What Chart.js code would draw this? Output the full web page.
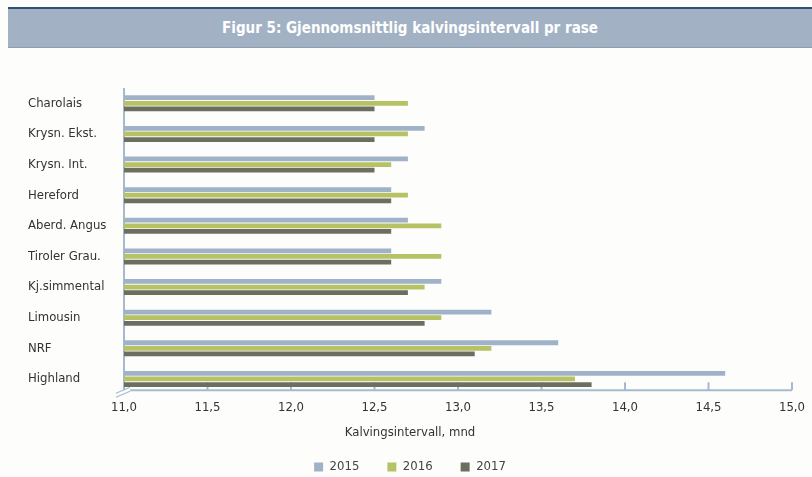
<!DOCTYPE html>
<html>
<head>
<meta charset="utf-8">
<script src="https://cdn.jsdelivr.net/npm/chart.js@4/dist/chart.umd.min.js"></script>
<style>
    body { margin: 0; background: #fdfdfc; }
    #banner {
        position: absolute; left: 8px; top: 7px; width: 804px; height: 38px;
        background: #a2b2c4; border-top: 2px solid #2f5272; border-bottom: 1px solid #8d9eb1;
        color: white; font: bold 15px "DejaVu Sans Condensed", sans-serif;
        text-align: center; line-height: 39px;
    }
    #wrap { position: absolute; left: 0; top: 0; width: 812px; height: 477px; }
</style>
</head>
<body>
<div id="wrap"><canvas id="FirstBarChart"></canvas></div>
<div id="banner">Figur 5: Gjennomsnittlig kalvingsintervall pr rase</div>
<script>
const breeds = ["Charolais", "Krysn. Ekst.", "Krysn. Int.", "Hereford", "Aberd. Angus",
    "Tiroler Grau.", "Kj.simmental", "Limousin", "NRF", "Highland"];
const years = ["2015", "2016", "2017"];
const values2015 = [12.5, 12.8, 12.7, 12.6, 12.7, 12.6, 12.9, 13.2, 13.6, 14.6];
const values2016 = [12.7, 12.7, 12.6, 12.7, 12.9, 12.9, 12.8, 12.9, 13.2, 13.7];
const values2017 = [12.5, 12.5, 12.5, 12.6, 12.6, 12.6, 12.7, 12.8, 13.1, 13.8];

const font = "'DejaVu Sans Condensed', sans-serif";

// axis line with upward ticks and the little break mark, drawn from the x scale
const axisLines = {
    id: 'axisLines',
    beforeDatasetsDraw(chart) {
        const {ctx, chartArea, scales: {x}} = chart;
        const yAxis = chartArea.bottom - 4;
        ctx.save();
        ctx.strokeStyle = '#a7bacd';
        ctx.lineWidth = 2;
        ctx.beginPath();
        ctx.moveTo(x.left, chartArea.top);
        ctx.lineTo(x.left, yAxis);
        ctx.lineTo(x.right, yAxis);
        x.ticks.forEach((t, i) => {
            const px = x.getPixelForTick(i);
            ctx.moveTo(px, yAxis);
            ctx.lineTo(px, yAxis - 8);
        });
        ctx.stroke();
        ctx.strokeStyle = '#fdfdfc';
        ctx.lineWidth = 3;
        ctx.beginPath();
        ctx.moveTo(x.left - 6, yAxis + 4);
        ctx.lineTo(x.left + 6, yAxis - 1);
        ctx.stroke();
        ctx.strokeStyle = '#a7bacd';
        ctx.lineWidth = 1.2;
        ctx.beginPath();
        ctx.moveTo(x.left - 8, yAxis + 3);
        ctx.lineTo(x.left + 6, yAxis - 3);
        ctx.moveTo(x.left - 8, yAxis + 7);
        ctx.lineTo(x.left + 6, yAxis + 1);
        ctx.stroke();
        ctx.restore();
    }
};

let ctx = document.getElementById('FirstBarChart').getContext('2d');

var data = {
    labels: breeds,
    datasets: [
        { label: years[0], data: values2015, backgroundColor: "#9fb2c7" },
        { label: years[1], data: values2016, backgroundColor: "#b6c264" },
        { label: years[2], data: values2017, backgroundColor: "#6c6f5f" }
    ]
};

var myBarChart = new Chart(ctx, {
    type: 'bar',
    data: data,
    plugins: [axisLines],
    options: {
        indexAxis: 'y',
        responsive: true,
        maintainAspectRatio: false,
        animation: false,
        barPercentage: 0.85,
        categoryPercentage: 0.55,
        layout: { padding: { left: 28, right: 20, top: 88, bottom: -6.5 } },
        scales: {
            x: {
                min: 11, max: 15,
                grid: { display: false, drawTicks: false },
                border: { display: false },
                ticks: {
                    stepSize: 0.5, padding: 6, color: '#333',
                    font: { family: font, size: 13 },
                    callback: v => v.toFixed(1).replace('.', ',')
                }
            },
            y: {
                grid: { display: false, drawTicks: false },
                border: { display: false },
                afterFit: scale => { scale.width = 96; },
                ticks: {
                    crossAlign: 'far', color: '#333', padding: 0,
                    font: { family: font, size: 13 }
                }
            }
        },
        plugins: {
            title: {
                display: true, position: 'bottom', weight: 500,
                text: "Kalvingsintervall, mnd", color: '#333',
                font: { family: font, size: 13, weight: 'normal' },
                padding: { top: 3.3, bottom: -8.3 }
            },
            legend: {
                position: 'bottom',
                labels: {
                    boxWidth: 9, boxHeight: 9, padding: 28, color: '#444',
                    font: { family: font, size: 13 }
                }
            },
            tooltip: { enabled: false }
        }
    }
});
</script>
</body>
</html>
